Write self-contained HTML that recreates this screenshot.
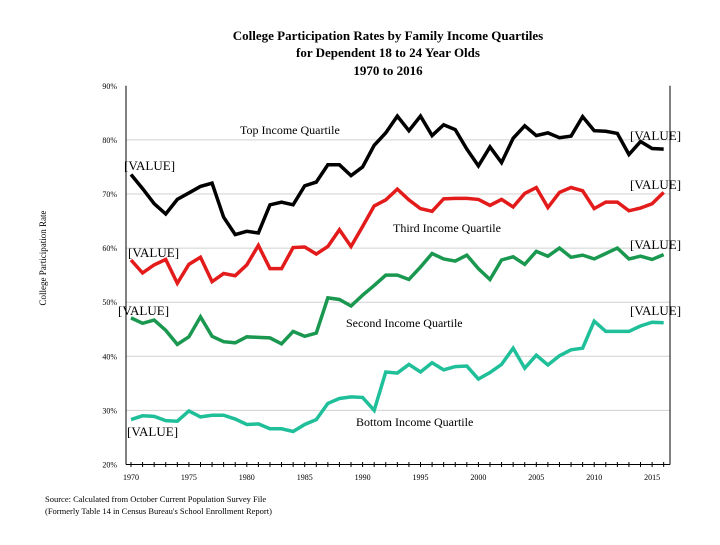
<!DOCTYPE html>
<html><head><meta charset="utf-8"><style>
body{margin:0;background:#fff;}
svg text{font-family:"Liberation Serif",serif;}
</style></head><body>
<svg id="chart" width="720" height="540" xmlns="http://www.w3.org/2000/svg">
<g font-weight="bold">
<text x="388" y="40" text-anchor="middle" font-size="13">College Participation Rates by Family Income Quartiles</text>
<text x="388" y="57" text-anchor="middle" font-size="13">for Dependent 18 to 24 Year Olds</text>
<text x="388" y="75" text-anchor="middle" font-size="13">1970 to 2016</text>
</g>
<text transform="translate(46,258) rotate(-90)" text-anchor="middle" font-size="9">College Participation Rate</text>
<g id="grid"></g><g id="axes"></g><g id="series"></g><g id="labels"></g>
<text x="45" y="502" font-size="8.5">Source: Calculated from October Current Population Survey File</text>
<text x="45" y="514" font-size="8.5">(Formerly Table 14 in Census Bureau's School Enrollment Report)</text>
</svg>
<script>
const years=[];for(let y=1970;y<=2016;y++)years.push(y);
const yTicks=[20,30,40,50,60,70,80,90];
const xTickLabels=[1970,1975,1980,1985,1990,1995,2000,2005,2010,2015];
const topQ=[73.6,71,68.2,66.3,69,70.2,71.4,72,65.7,62.5,63.1,62.8,68,68.5,68,71.5,72.2,75.4,75.4,73.4,75,79,81.3,84.4,81.7,84.4,80.8,82.8,81.9,78.3,75.2,78.7,75.8,80.3,82.6,80.8,81.3,80.4,80.7,84.3,81.7,81.6,81.2,77.3,79.7,78.4,78.3];
const thirdQ=[57.8,55.4,56.9,57.9,53.5,57,58.3,53.8,55.3,54.9,56.9,60.5,56.2,56.2,60.1,60.2,58.9,60.3,63.4,60.3,64,67.8,68.9,70.9,68.9,67.3,66.8,69.1,69.2,69.2,69,67.9,69,67.6,70.1,71.2,67.5,70.3,71.2,70.6,67.3,68.5,68.5,66.9,67.4,68.2,70.3];
const secondQ=[47.1,46.1,46.7,44.8,42.2,43.6,47.3,43.7,42.7,42.5,43.6,43.5,43.4,42.3,44.6,43.7,44.3,50.8,50.5,49.3,51.3,53.1,55,55,54.2,56.5,59,58,57.6,58.7,56.2,54.2,57.8,58.4,57,59.4,58.5,60,58.3,58.7,58,59,60,58,58.5,57.9,58.8];
const bottomQ=[28.3,29,28.9,28.1,28,29.9,28.8,29.1,29.1,28.4,27.4,27.5,26.6,26.6,26.1,27.4,28.3,31.3,32.2,32.5,32.4,30,37.1,36.9,38.5,37.1,38.8,37.5,38.1,38.2,35.8,37,38.5,41.5,37.8,40.2,38.4,40.1,41.2,41.5,46.5,44.6,44.6,44.6,45.6,46.3,46.2];
const NS="http://www.w3.org/2000/svg";
const X=y=>131+(y-1970)*11.58;
const Y=v=>464.5-(v-20)*5.41;
function mk(tag,attrs,parent){const e=document.createElementNS(NS,tag);for(const k in attrs)e.setAttribute(k,attrs[k]);document.getElementById(parent).appendChild(e);return e;}
yTicks.forEach(t=>{
 if(t>20&&t<90){const g=mk('line',{x1:126,x2:670,y1:Y(t),y2:Y(t),stroke:'#d0d0d0','stroke-width':1},'grid');
 
 }
 const tx=mk('text',{x:117,y:Y(t)+3,'text-anchor':'end','font-size':8},'axes');tx.textContent=t+'%';
 
 
});
let a=mk('line',{x1:126,x2:126,y1:Y(90),y2:464.5,stroke:'#000','stroke-width':1},'axes');


a=mk('line',{x1:670,x2:670,y1:Y(90),y2:464.5,stroke:'#000','stroke-width':1},'axes');


a=mk('line',{x1:126,x2:670,y1:464.5,y2:464.5,stroke:'#000','stroke-width':1},'axes');


years.forEach(y=>{const t=mk('line',{x1:X(y),x2:X(y),y1:462,y2:467,stroke:'#000','stroke-width':1},'axes');
 
 });
xTickLabels.forEach(y=>{const t=mk('text',{x:X(y),y:480,'text-anchor':'middle','font-size':8},'axes');t.textContent=y;
 
 });
const series=[['top-quartile-line',topQ,'#000'],['third-quartile-line',thirdQ,'#e31b1b'],['second-quartile-line',secondQ,'#1a9850'],['bottom-quartile-line',bottomQ,'#1fbf9a']];
series.forEach(([n,d,c])=>{const p=mk('polyline',{points:d.map((v,i)=>X(years[i])+','+Y(v)).join(' '),fill:'none',stroke:c,'stroke-width':3.5,'stroke-linejoin':'miter'},'series');
 
 });
const labs=[['top-quartile-label',240,134,'Top Income Quartile',12],['third-quartile-label',393,232,'Third Income Quartile',12],['second-quartile-label',346,327,'Second Income Quartile',12],['bottom-quartile-label',356,426,'Bottom Income Quartile',12],
['value-label',124,170,'[VALUE]',13],['value-label',128,257,'[VALUE]',13],['value-label',118,315,'[VALUE]',13],['value-label',127,436,'[VALUE]',13],
['value-label',630,140,'[VALUE]',13],['value-label',630,189,'[VALUE]',13],['value-label',630,249,'[VALUE]',13],['value-label',630,315,'[VALUE]',13]];
labs.forEach(([n,x,y,t,s])=>{const e=mk('text',{x:x,y:y,'font-size':s},'labels');e.textContent=t;
 
 });
</script>
</body></html>
